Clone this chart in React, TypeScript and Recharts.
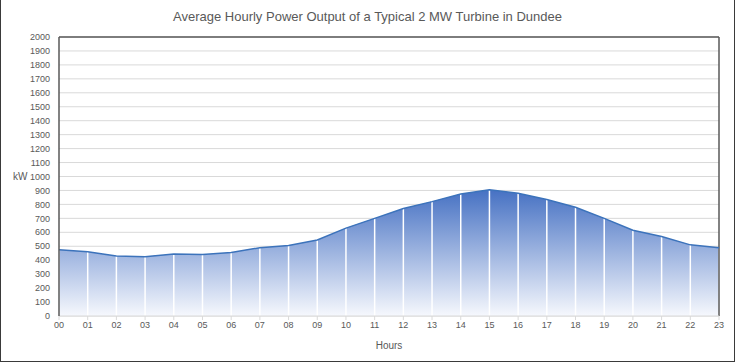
import { ComposedChart, Area, Line, XAxis, YAxis, CartesianGrid, ReferenceLine } from 'recharts';

const hours = ['00', '01', '02', '03', '04', '05', '06', '07', '08', '09', '10', '11', '12', '13', '14', '15', '16', '17', '18', '19', '20', '21', '22', '23'];
const outputKw = [475, 460, 430, 425, 445, 440, 455, 490, 505, 545, 630, 700, 770, 820, 875, 905, 880, 835, 780, 700, 615, 570, 510, 490];
const yTicks = [0, 100, 200, 300, 400, 500, 600, 700, 800, 900, 1000, 1100, 1200, 1300, 1400, 1500, 1600, 1700, 1800, 1900, 2000];

const data = hours.map((h, i) => ({ hour: h, kw: outputKw[i] }));

const font = '"Liberation Sans", Arial, sans-serif';
const tickStyle = { fontSize: 9, fill: '#595959', fontFamily: font };

export default function App() {
  return (
    <div
      style={{
        position: 'relative',
        width: 735,
        height: 362,
        boxSizing: 'border-box',
        borderLeft: '1px solid #3a3a3a',
        borderRight: '1px solid #3a3a3a',
        borderBottom: '1px solid #3a3a3a',
        background: '#fff',
        overflow: 'hidden',
      }}
    >
      <style>{'body{margin:0}'}</style>
      <div
        style={{
          position: 'absolute',
          top: 9,
          left: 0,
          width: '100%',
          textAlign: 'center',
          fontFamily: font,
          fontSize: 13,
          color: '#595959',
        }}
      >
        Average Hourly Power Output of a Typical 2 MW Turbine in Dundee
      </div>
      <ComposedChart
        width={734}
        height={362}
        data={data}
        margin={{ top: 37, right: 15, bottom: 0, left: 0 }}
        style={{ position: 'absolute', top: 0, left: -1 }}
      >
        <defs>
          <linearGradient id="kwFill" x1="0" y1="0" x2="0" y2="1">
            <stop offset="0%" stopColor="#4671c3" />
            <stop offset="100%" stopColor="#f6f8fd" />
          </linearGradient>
        </defs>
        <CartesianGrid stroke="#d9d9d9" vertical={false} />
        <XAxis
          dataKey="hour"
          height={46}
          tick={tickStyle}
          tickSize={4}
          tickMargin={2}
          axisLine={{ stroke: '#d9d9d9' }}
          tickLine={{ stroke: '#d9d9d9' }}
          interval={0}
          label={{ value: 'Hours', position: 'insideBottom', offset: 13, style: { ...tickStyle, fontSize: 10 } }}
        />
        <YAxis
          domain={[0, 2000]}
          ticks={yTicks}
          interval={0}
          width={59}
          tick={tickStyle}
          tickSize={0}
          tickMargin={9}
          tickLine={false}
          axisLine={{ stroke: '#595959', strokeWidth: 1.5 }}
          label={{ value: 'kW', position: 'insideLeft', offset: 13, style: { ...tickStyle, fontSize: 10 } }}
        />
        <Area dataKey="kw" type="linear" stroke="none" fill="url(#kwFill)" fillOpacity={1} isAnimationActive={false} />
        {data.map((d) => (
          <ReferenceLine
            key={d.hour}
            segment={[
              { x: d.hour, y: 0 },
              { x: d.hour, y: d.kw },
            ]}
            stroke="#ffffff"
            strokeWidth={1.5}
          />
        ))}
        <ReferenceLine y={2000} stroke="#595959" strokeWidth={1.5} />
        <ReferenceLine x={hours[hours.length - 1]} stroke="#595959" strokeWidth={1.5} />
        <Line dataKey="kw" type="linear" stroke="#3c73bb" strokeWidth={1.5} dot={false} activeDot={false} isAnimationActive={false} />
      </ComposedChart>
    </div>
  );
}
